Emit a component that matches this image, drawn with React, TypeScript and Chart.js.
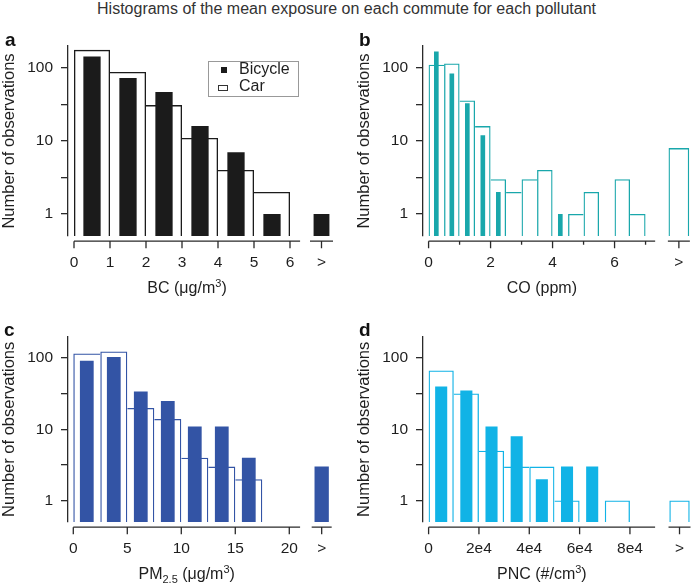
import React, { useEffect, useRef } from 'react';
import { Chart, registerables } from 'chart.js';

Chart.register(...registerables);

const FONT = '"Liberation Sans", Arial, Helvetica, sans-serif';
const AXIS = '#2a2a2a';
const TXT = '#1e1e1e';

// ---------- BC (panel a) ----------
const bcEdges = [0, 1, 2, 3, 4, 5, 6];
const bcBicycle: (number | null)[] = [144, 73, 47, 16, 7, 1];
const bcCar: (number | null)[] = [177, 88, 31, 11, 4, 2];
const bcBicycleOver: number | null = 1;
const bcCarOver: number | null = null;
const bcTicks = [0, 1, 2, 3, 4, 5, 6];
const bcTickLabels = ['0', '1', '2', '3', '4', '5', '6'];

// ---------- CO (panel b) ----------
const coEdges = [0, 0.5, 1, 1.5, 2, 2.5, 3, 3.5, 4, 4.5, 5, 5.5, 6, 6.5, 7];
const coBicycle: (number | null)[] = [168, 84, 33, 12, 2, null, null, null, 1, null, null, null, null, null];
const coCar: (number | null)[] = [111, 115, 36, 16, 3, 2, 3, 4, null, 1, 2, null, 3, 1];
const coBicycleOver: number | null = null;
const coCarOver: number | null = 8;
const coTicks = [0, 1, 2, 3, 4, 5, 6, 7];
const coTickLabels = ['0', '', '2', '', '4', '', '6', ''];

// ---------- PM2.5 (panel c) ----------
const pmEdges = [0, 2.5, 5, 7.5, 10, 12.5, 15, 17.5];
const pmBicycle: (number | null)[] = [92, 104, 34, 25, 11, 11, 4];
const pmCar: (number | null)[] = [116, 124, 20, 14, 4, 3, 2];
const pmBicycleOver: number | null = 3;
const pmCarOver: number | null = null;
const pmTicks = [0, 5, 10, 15, 20];
const pmTickLabels = ['0', '5', '10', '15', '20'];

// ---------- PNC (panel d) ----------
const pncEdges = [0, 10000, 20000, 30000, 40000, 50000, 60000, 70000, 80000];
const pncBicycle: (number | null)[] = [40, 35, 11, 8, 2, 3, 3, null];
const pncCar: (number | null)[] = [67, 32, 5, 3, 3, 1, null, 1];
const pncBicycleOver: number | null = null;
const pncCarOver: number | null = 1;
const pncTicks = [0, 20000, 40000, 60000, 80000];
const pncTickLabels = ['0', '2e4', '4e4', '6e4', '8e4'];

// ---------- shared ----------
const overLabel = '>';
const yTicks = [1, 3.1623, 10, 31.623, 100];
const yTickLabels = ['1', '', '10', '', '100'];
const yTitle = 'Number of observations';
const legendLabels = ['Bicycle', 'Car'];
const mainTitle = 'Histograms of the mean exposure on each commute for each pollutant';

type Part = [string, number]; // 0 normal, 1 superscript, -1 subscript

interface PanelCfg {
  letter: string;
  color: string;
  edges: number[];
  bike: (number | null)[];
  car: (number | null)[];
  bikeOver: number | null;
  carOver: number | null;
  overAt: number;
  ticks: number[];
  tickLabels: string[];
  title: Part[];
  xMin: number;
  xMax: number;
  axisEnd: number;
  overHalf: number;
  bikePct: number;
  bikeOverPct: number;
  carOverPct: number;
  left: number;
  top: number;
  w: number;
  h: number;
  padTop: number;
  padRight: number;
  letterPos: [number, number];
}

const panels: PanelCfg[] = [
  {
    letter: 'a', color: '#1b1b1b', edges: bcEdges, bike: bcBicycle, car: bcCar,
    bikeOver: bcBicycleOver, carOver: bcCarOver, overAt: 6.875,
    ticks: bcTicks, tickLabels: bcTickLabels,
    title: [['BC (μg/m', 0], ['3', 1], [')', 0]],
    xMin: -0.1667, xMax: 7.3, axisEnd: 6.28, overHalf: 11.5,
    bikePct: 0.48, bikeOverPct: 0.44, carOverPct: 1,
    left: 0, top: 22, w: 346, h: 278, padTop: 24, padRight: 9.2, letterPos: [5, 30],
  },
  {
    letter: 'b', color: '#19a7ab', edges: coEdges, bike: coBicycle, car: coCar,
    bikeOver: coBicycleOver, carOver: coCarOver, overAt: 8.075,
    ticks: coTicks, tickLabels: coTickLabels,
    title: [['CO (ppm)', 0]],
    xMin: -0.18, xMax: 8.45, axisEnd: 7.31, overHalf: 11,
    bikePct: 0.3, bikeOverPct: 0.3, carOverPct: 1.335,
    left: 355, top: 22, w: 338, h: 278, padTop: 24, padRight: 2.5, letterPos: [359, 30],
  },
  {
    letter: 'c', color: '#3354a5', edges: pmEdges, bike: pmBicycle, car: pmCar,
    bikeOver: pmBicycleOver, carOver: pmCarOver, overAt: 23,
    ticks: pmTicks, tickLabels: pmTickLabels,
    title: [['PM', 0], ['2.5', -1], [' (μg/m', 0], ['3', 1], [')', 0]],
    xMin: -0.49, xMax: 24.4, axisEnd: 21, overHalf: 10,
    bikePct: 0.51, bikeOverPct: 0.53, carOverPct: 1,
    left: 0, top: 302, w: 346, h: 284, padTop: 34.7, padRight: 9.2, letterPos: [4, 320],
  },
  {
    letter: 'd', color: '#11b3e6', edges: pncEdges, bike: pncBicycle, car: pncCar,
    bikeOver: pncBicycleOver, carOver: pncCarOver, overAt: 99700,
    ticks: pncTicks, tickLabels: pncTickLabels,
    title: [['PNC (#/cm', 0], ['3', 1], [')', 0]],
    xMin: -2225, xMax: 104500, axisEnd: 90000, overHalf: 11,
    bikePct: 0.48, bikeOverPct: 0.48, carOverPct: 0.81,
    left: 355, top: 302, w: 338, h: 284, padTop: 34.7, padRight: 1.4, letterPos: [359, 320],
  },
];

function Panel({ p }: { p: PanelCfg }) {
  const ref = useRef<HTMLCanvasElement>(null);
  useEffect(() => {
    const canvas = ref.current;
    if (!canvas) return;
    const W = 1.3;
    const centers = p.edges.slice(0, -1).map((e, i) => (e + p.edges[i + 1]) / 2);
    const allTicks = [...p.ticks, p.overAt];
    const allLabels = [...p.tickLabels, overLabel];

    const carBorder = (ctx: any) => {
      const i = ctx.dataIndex;
      if (i === undefined) return W;
      const v = p.car[i];
      if (v == null) return 0;
      const prev = i > 0 ? p.car[i - 1] : null;
      const next = i < p.car.length - 1 ? p.car[i + 1] : null;
      return {
        top: W,
        bottom: 0,
        left: prev == null || v >= prev ? W : 0,
        right: next == null || v > next ? W : 0,
      };
    };

    const axisPlugin = {
      id: 'brokenAxis' + p.letter,
      afterDraw(chart: any) {
        const sx = chart.scales.x;
        const area = chart.chartArea;
        const ctx = chart.ctx as CanvasRenderingContext2D;
        const y0 = area.bottom + 5.2;
        ctx.save();
        ctx.strokeStyle = AXIS;
        ctx.lineWidth = W;
        ctx.beginPath();
        ctx.moveTo(sx.getPixelForValue(p.ticks[0]), y0);
        ctx.lineTo(sx.getPixelForValue(p.axisEnd), y0);
        const gp = sx.getPixelForValue(p.overAt);
        ctx.moveTo(gp - p.overHalf, y0);
        ctx.lineTo(gp + p.overHalf, y0);
        allTicks.forEach((v, i) => {
          const px = sx.getPixelForValue(v);
          const len = allLabels[i] === '' ? 3.5 : 7;
          ctx.moveTo(px, y0);
          ctx.lineTo(px, y0 + len);
        });
        ctx.stroke();

        // axis title with sub/superscripts
        const big = 16;
        const small = 11;
        const widths = p.title.map(([t, k]) => {
          ctx.font = `${k === 0 ? big : small}px ${FONT}`;
          return ctx.measureText(t).width;
        });
        const total = widths.reduce((a, b) => a + b, 0);
        const cx = (sx.getPixelForValue(p.ticks[0]) + sx.getPixelForValue(p.axisEnd)) / 2;
        let x = cx - total / 2;
        const base = area.bottom + 57;
        ctx.fillStyle = TXT;
        ctx.textBaseline = 'alphabetic';
        ctx.textAlign = 'left';
        p.title.forEach(([t, k], i) => {
          ctx.font = `${k === 0 ? big : small}px ${FONT}`;
          const dy = k === 1 ? -6 : k === -1 ? 4 : 0;
          ctx.fillText(t, x, base + dy);
          x += widths[i];
        });
        ctx.restore();
      },
    };

    const chart = new Chart(canvas, {
      type: 'bar',
      data: {
        datasets: [
          {
            label: legendLabels[0],
            data: centers.map((c, i) => ({ x: c, y: p.bike[i] })),
            xAxisID: 'xb', yAxisID: 'y',
            backgroundColor: p.color, borderWidth: 0,
            barPercentage: p.bikePct, categoryPercentage: 1, inflateAmount: 0,
          } as any,
          {
            label: legendLabels[0] + ' ' + overLabel,
            data: [{ x: p.overAt, y: p.bikeOver }],
            xAxisID: 'xb', yAxisID: 'y',
            backgroundColor: p.color, borderWidth: 0,
            barPercentage: p.bikeOverPct, categoryPercentage: 1, inflateAmount: 0,
          } as any,
          {
            label: legendLabels[1],
            data: centers.map((c, i) => ({ x: c, y: p.car[i] })),
            xAxisID: 'xb', yAxisID: 'y',
            backgroundColor: 'rgba(255,255,255,0)', borderColor: p.color,
            borderWidth: carBorder, borderSkipped: 'start',
            barPercentage: 1, categoryPercentage: 1, inflateAmount: 0,
          } as any,
          {
            label: legendLabels[1] + ' ' + overLabel,
            data: [{ x: p.overAt, y: p.carOver }],
            xAxisID: 'xb', yAxisID: 'y',
            backgroundColor: 'rgba(255,255,255,0)', borderColor: p.color,
            borderWidth: p.carOver == null ? 0 : { top: W, left: W, right: W, bottom: 0 },
            borderSkipped: 'start',
            barPercentage: p.carOverPct, categoryPercentage: 1, inflateAmount: 0,
          } as any,
        ],
      },
      options: {
        animation: false,
        responsive: false,
        maintainAspectRatio: false,
        layout: { padding: { top: p.padTop, right: p.padRight, bottom: 0, left: 0 } },
        datasets: { bar: { grouped: false } } as any,
        plugins: {
          legend: { display: false },
          tooltip: { enabled: false },
          title: { display: false },
        },
        scales: {
          x: {
            type: 'linear',
            position: 'bottom',
            min: p.xMin,
            max: p.xMax,
            offset: false,
            afterBuildTicks: (s: any) => {
              s.ticks = allTicks.map((v) => ({ value: v }));
            },
            afterFit: (s: any) => {
              s.height = 64;
            },
            grid: {
              display: true,
              drawOnChartArea: false,
              drawTicks: true,
              tickLength: 12,
              color: 'rgba(0,0,0,0)',
              offset: false,
            },
            border: { display: false },
            ticks: {
              autoSkip: false,
              maxRotation: 0,
              minRotation: 0,
              padding: 5,
              color: TXT,
              font: { size: 15.5, family: FONT },
              callback: (_v: any, i: number) => allLabels[i],
            },
          } as any,
          xb: {
            type: 'linear',
            display: false,
            min: p.xMin,
            max: p.xMax,
            offset: false,
            afterBuildTicks: (s: any) => {
              s.ticks = [{ value: p.xMin }, { value: p.xMax }];
            },
          } as any,
          y: {
            type: 'logarithmic',
            position: 'left',
            min: 0.5,
            max: 200,
            afterBuildTicks: (s: any) => {
              s.ticks = yTicks.map((v) => ({ value: v }));
            },
            afterFit: (s: any) => {
              s.width = 68;
            },
            grid: {
              drawOnChartArea: false,
              drawTicks: true,
              tickLength: 7,
              color: AXIS,
              lineWidth: W,
            },
            border: { display: true, color: AXIS, width: W },
            ticks: {
              padding: 8,
              color: TXT,
              font: { size: 15.5, family: FONT },
              callback: (_v: any, i: number) => yTickLabels[i],
            },
            title: {
              display: true,
              text: yTitle,
              color: TXT,
              font: { size: 16.5, family: FONT },
              padding: { top: 0, bottom: 0 },
            },
          } as any,
        },
      },
      plugins: [axisPlugin],
    });
    return () => chart.destroy();
  }, [p]);

  return (
    <canvas
      ref={ref}
      width={p.w}
      height={p.h}
      style={{ position: 'absolute', left: p.left, top: p.top, width: p.w, height: p.h }}
    />
  );
}

export default function App() {
  return (
    <div
      style={{
        position: 'absolute', left: 0, top: 0, width: 693, height: 586,
        background: '#ffffff', overflow: 'hidden', fontFamily: FONT, color: TXT,
      }}
    >
      <div
        style={{
          position: 'absolute', left: 0, top: 0, width: 693, textAlign: 'center',
          fontSize: 16, lineHeight: '18px', whiteSpace: 'nowrap', color: '#333',
        }}
      >
        {mainTitle}
      </div>
      {panels.map((p) => (
        <Panel key={p.letter} p={p} />
      ))}
      {panels.map((p) => (
        <div
          key={'l' + p.letter}
          style={{
            position: 'absolute', left: p.letterPos[0], top: p.letterPos[1],
            fontSize: 19, lineHeight: '19px', fontWeight: 'bold', color: '#111',
          }}
        >
          {p.letter}
        </div>
      ))}
      <div
        style={{
          position: 'absolute', left: 208, top: 61, width: 91, height: 36,
          border: '1px solid #999', background: '#fff', boxSizing: 'border-box',
        }}
      >
        <div style={{ position: 'absolute', left: 12, top: 5, width: 6, height: 6, background: '#1b1b1b' }} />
        <div style={{ position: 'absolute', left: 30, top: -1, fontSize: 16, lineHeight: '16px', whiteSpace: 'nowrap' }}>
          {legendLabels[0]}
        </div>
        <div
          style={{
            position: 'absolute', left: 9, top: 22.5, width: 10, height: 6.5,
            border: '1px solid #333', boxSizing: 'border-box',
          }}
        />
        <div style={{ position: 'absolute', left: 30, top: 15.5, fontSize: 16, lineHeight: '16px', whiteSpace: 'nowrap' }}>
          {legendLabels[1]}
        </div>
      </div>
    </div>
  );
}
